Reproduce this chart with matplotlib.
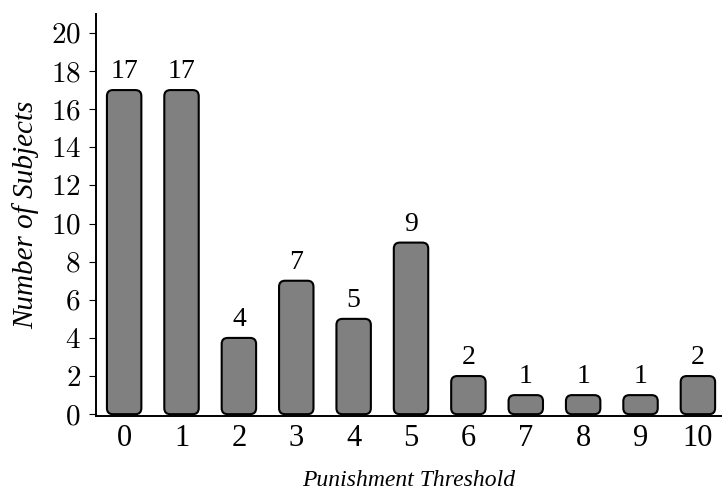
import matplotlib
matplotlib.use("Agg")
import matplotlib.pyplot as plt
from matplotlib.patches import FancyBboxPatch

thresholds = [0, 1, 2, 3, 4, 5, 6, 7, 8, 9, 10]
counts = [17, 17, 4, 7, 5, 9, 2, 1, 1, 1, 2]
yticks = [0, 2, 4, 6, 8, 10, 12, 14, 16, 18, 20]

plt.rcParams['font.family'] = ['Liberation Serif', 'DejaVu Serif']
plt.rcParams['mathtext.fontset'] = 'cm'

fig = plt.figure(figsize=(7.22, 4.93), dpi=100)
ax = fig.add_axes([0.133, 0.156, 0.867, 0.816])

xlim = (-0.49, 10.42)
ylim = (-0.1, 21.0)
ax.set_xlim(*xlim)
ax.set_ylim(*ylim)

bars = ax.bar(thresholds, counts, width=0.6, color='none', edgecolor='none')

pos = ax.get_position()
w_px = pos.width * fig.get_figwidth() * fig.dpi
h_px = pos.height * fig.get_figheight() * fig.dpi
x_per_px = (xlim[1] - xlim[0]) / w_px
y_per_px = (ylim[1] - ylim[0]) / h_px
aspect = y_per_px / x_per_px
r = 6 * x_per_px

for b, c in zip(bars, counts):
    x0, y0 = b.get_x(), b.get_y()
    w, h = b.get_width(), b.get_height()
    p = FancyBboxPatch((x0, y0), w, h,
                       boxstyle=f"round,pad=0,rounding_size={r}",
                       mutation_aspect=aspect,
                       facecolor='#808080', edgecolor='black', linewidth=1.5,
                       zorder=2)
    ax.add_patch(p)
    ax.text(x0 + w / 2, h + 0.3, str(c), ha='center', va='bottom', fontsize=20)

for s in ['top', 'right']:
    ax.spines[s].set_visible(False)
for s in ['left', 'bottom']:
    ax.spines[s].set_linewidth(1.4)

ax.set_xticks(thresholds)
ax.set_xticklabels([str(t) for t in thresholds], fontsize=22)
ax.set_yticks(yticks)
ax.set_yticklabels([f"${t}$" for t in yticks], fontsize=21)
ax.tick_params(axis='x', length=0, pad=6)
ax.tick_params(axis='y', direction='out', length=5, width=0.8, pad=6)

ax.set_xlabel('Punishment Threshold', fontsize=17, style='italic', labelpad=12)
ax.set_ylabel('Number of Subjects', fontsize=21, style='italic', labelpad=8)

fig.savefig('out.png', dpi=100)
